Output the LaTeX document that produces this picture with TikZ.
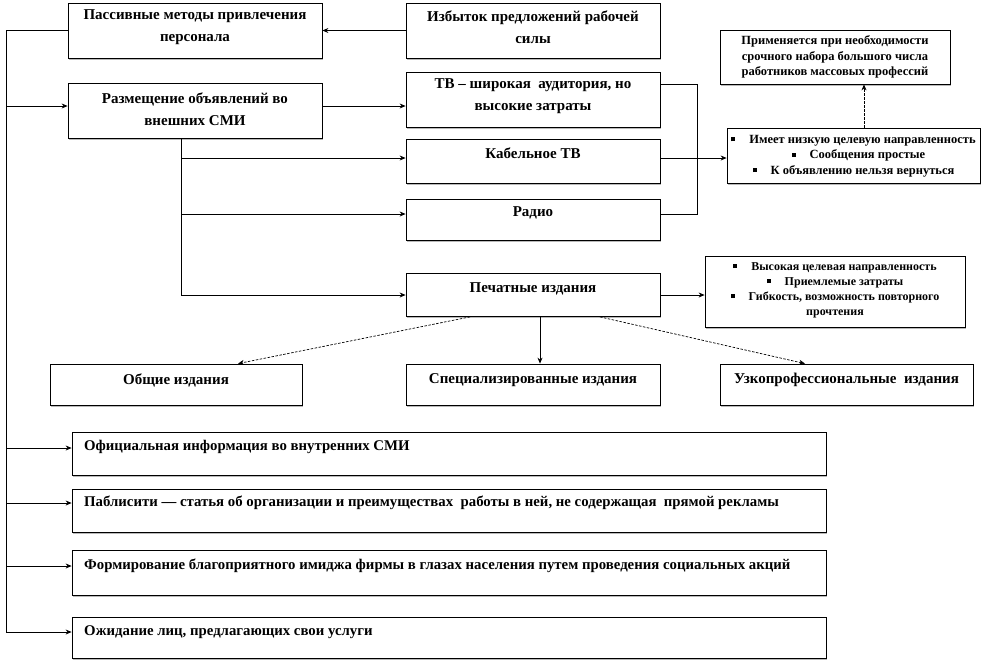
\documentclass[tikz,border=0pt]{standalone}
\usepackage{fontspec}
\setmainfont{Liberation Serif}
\usetikzlibrary{arrows.meta,shadows}
\newcommand\bul{\rule[2pt]{4pt}{4pt}\hspace{14pt}}
\begin{document}
\begin{tikzpicture}[x=1pt,y=-1pt,
  box/.style={draw=black, line width=0.8pt, fill=white, inner sep=0pt,
    drop shadow={shadow xshift=1pt, shadow yshift=-1.5pt, fill=gray!55, opacity=1}},
  big/.style={font=\bfseries\fontsize{15}{22}\selectfont, align=center, inner sep=0pt},
  small/.style={font=\bfseries\fontsize{12.5}{15.3}\selectfont, align=center, inner sep=0pt},
  low/.style={font=\bfseries\fontsize{14.8}{17}\selectfont, anchor=west, inner sep=0pt},
  ln/.style={line width=0.7pt, draw=black},
  arr/.style={ln, -{Stealth[length=6pt,width=5pt]}},
  dsh/.style={arr, dash pattern=on 2.5pt off 1.5pt}]
\useasboundingbox (0,0) rectangle (991,662);

% boxes
\node[box, minimum width=254pt, minimum height=55pt] (pas) at (195,30.5) {};
\node[box, minimum width=254pt, minimum height=55pt] (izb) at (533,30.5) {};
\node[box, minimum width=254pt, minimum height=55pt] (raz) at (195,110.5) {};
\node[box, minimum width=254pt, minimum height=55pt] (tv) at (533,99.5) {};
\node[box, minimum width=254pt, minimum height=44pt] (kab) at (533,161) {};
\node[box, minimum width=254pt, minimum height=41pt] (rad) at (533,219.5) {};
\node[box, minimum width=254pt, minimum height=43pt] (pech) at (533,295) {};
\node[box, minimum width=252pt, minimum height=41pt] (obsh) at (176,384.5) {};
\node[box, minimum width=254pt, minimum height=41pt] (spec) at (533,384.5) {};
\node[box, minimum width=253pt, minimum height=41pt] (uzk) at (846.5,384.5) {};
\node[box, minimum width=253pt, minimum height=55pt] (imeet) at (853.5,155.5) {};
\node[box, minimum width=230pt, minimum height=54pt] (prim) at (835,57) {};
\node[box, minimum width=260pt, minimum height=71pt] (vys) at (835,291.5) {};
\node[box, minimum width=754pt, minimum height=43pt] (ofic) at (449,453.5) {};
\node[box, minimum width=754pt, minimum height=43pt] (pabl) at (449,510.5) {};
\node[box, minimum width=754pt, minimum height=45pt] (form) at (449,572.5) {};
\node[box, minimum width=754pt, minimum height=41pt] (ozh) at (449,637.5) {};

% texts
\node[big] (pasT) at (195,27) {Пассивные методы привлечения\\персонала};
\node[big] (izbT) at (533,27) {Избыток предложений рабочей\\силы};
\node[big] (razT) at (195,109) {Размещение объявлений во\\внешних СМИ};
\node[big] (tvT) at (533,96) {ТВ – широкая~ аудитория, но\\высокие затраты};
\node[big] (kabT) at (533,153) {Кабельное ТВ};
\node[big] (radT) at (533,213) {Радио};
\node[big] (pechT) at (533,289) {Печатные издания};
\node[big] (obshT) at (176,380) {Общие издания};
\node[big] (specT) at (533,380) {Специализированные издания};
\node[big] (uzkT) at (846.5,380) {Узкопрофессиональные~ издания};
\node[small] (primT) at (835,57) {Применяется при необходимости\\срочного набора большого числа\\работников массовых профессий};
\node[small] (imeetT) at (853.5,156) {\bul Имеет низкую целевую направленность\\\hspace*{10pt}\bul Сообщения простые\\\bul К объявлению нельзя вернуться};
\node[font=\bfseries\fontsize{12}{15}\selectfont, align=center, inner sep=0pt] (vysT) at (835,290) {\bul Высокая целевая направленность\\\bul Приемлемые затраты\\\bul Гибкость, возможность повторного\\прочтения};
\node[low] (oficT) at (84,447) {Официальная информация во внутренних СМИ};
\node[low] (pablT) at (84,503) {Паблисити — статья об организации и преимуществах~ работы в ней, не содержащая~ прямой рекламы};
\node[low] (formT) at (84,566) {Формирование благоприятного имиджа фирмы в глазах населения путем проведения социальных акций};
\node[low] (ozhT) at (84,632) {Ожидание лиц, предлагающих свои услуги};

% helper coordinates
\coordinate (lt) at (6,30.5);
\coordinate (razA) at ([yshift=4.5pt]raz.west);
\coordinate (oficA) at ([yshift=5.5pt]ofic.west);
\coordinate (pablA) at ([yshift=7.5pt]pabl.west);
\coordinate (formA) at ([yshift=6.5pt]form.west);
\coordinate (ozhA) at ([yshift=5.5pt]ozh.west);
\coordinate (vt) at ([xshift=-13.5pt]raz.south);
\coordinate (kabA) at ([yshift=3pt]kab.west);
\coordinate (radA) at ([yshift=5.5pt]rad.west);
\coordinate (tvB) at ([yshift=15.5pt]tv.east);
\coordinate (kabB) at ([yshift=3pt]kab.east);
\coordinate (radB) at ([yshift=5.5pt]rad.east);
\coordinate (rb) at (697,84);
\coordinate (px) at (864,0);

% connectors
\draw[arr] (izb) -- (pas);
\draw[ln] (pas.west) -- (lt) -- (lt |- ozhA);
\draw[arr] (lt |- razA) -- (razA);
\draw[arr] (lt |- oficA) -- (oficA);
\draw[arr] (lt |- pablA) -- (pablA);
\draw[arr] (lt |- formA) -- (formA);
\draw[arr] (lt |- ozhA) -- (ozhA);
\draw[arr] (razA -| raz.east) -- (razA -| tv.west);
\draw[arr] (vt) |- (pech.west);
\draw[arr] (vt |- kabA) -- (kabA);
\draw[arr] (vt |- radA) -- (radA);
\draw[ln] (tvB) -- (tvB -| rb) -- (rb |- radB) -- (radB);
\draw[ln] (kabB) -- (kabB -| rb);
\draw[arr] (kabB -| rb) -- (kabB -| imeet.west);
\draw[dsh] (imeet.north -| px) -- (prim.south -| px);
\draw[arr] (pech.east) -- (pech.east -| vys.west);
\draw[dsh] ([xshift=-63pt]pech.south) -- ([xshift=62pt]obsh.north);
\draw[arr] ([xshift=7pt]pech.south) -- ([xshift=7pt]spec.north);
\draw[dsh] ([xshift=67pt]pech.south) -- ([xshift=-41.5pt]uzk.north);
\end{tikzpicture}
\end{document}
